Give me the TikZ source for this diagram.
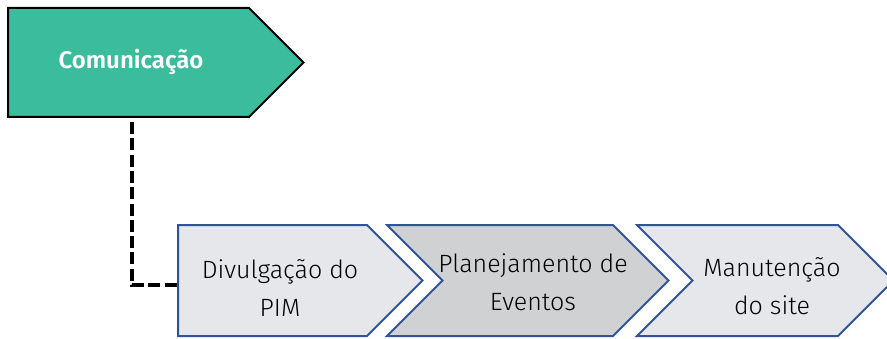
\documentclass[tikz,border=0pt]{standalone}
\usepackage{fontspec}
\setmainfont{Fira Sans}[UprightFont=* Light, BoldFont=* SemiBold]

\definecolor{verde}{HTML}{3BBD9D}
\definecolor{cinzaclaro}{HTML}{E6E7EB}
\definecolor{cinzaescuro}{HTML}{D0D1D3}
\definecolor{azul}{HTML}{2F5597}

\tikzset{
  fase/.style={draw=black, line width=2pt, fill=verde, line join=miter},
  etapa/.style={draw=azul, line width=2pt, fill=cinzaclaro, line join=miter},
  rotulofase/.style={text=white, inner sep=0pt, font=\fontsize{24}{28}\selectfont\bfseries},
  rotulo/.style={align=center, inner sep=0pt, font=\fontsize{25}{38}\selectfont},
  ligacao/.style={draw=black, line width=3.5pt, dash pattern=on 12pt off 4.3pt, shorten <=5pt},
}

\begin{document}
\begin{tikzpicture}[x=1pt,y=1pt]
        \useasboundingbox (0,0) rectangle (887,338);
        % Define shapes
        % fase
        \draw[fase] (8,330) -- (249,330) -- (303.5,275.5) -- (249,221) -- (8,221) coordinate (comunic-sw) -- cycle;
        % etapas
        \draw[etapa] (178,113) -- (367,113) -- (422.5,57.5) -- (367,2) -- (178,2) coordinate (divulg-sw) -- cycle;
        \draw[etapa, fill=cinzaescuro] (387,113) -- (613,113) -- (668.5,57.5) -- (613,2) -- (387,2) -- (442.5,57.5) -- cycle;
        \draw[etapa] (637,113) -- (838,113) -- (893.5,57.5) -- (838,2) -- (637,2) -- (692.5,57.5) -- cycle;
        % Define nodes
        \node[rotulofase](comunic) at (131,276){Comunicação}; %
        \node[rotulo](divulg) at (280,50){Divulgação do\\PIM}; %
        \node[rotulo](eventos) at (533,56){Planejamento de\\Eventos}; %
        \node[rotulo](site) at (772,52){Manutenção\\do site}; %
        % ligacao
        \coordinate (queda) at (132,53);
        \draw[ligacao] (comunic-sw -| queda) -- (queda) -- (queda -| divulg-sw);
    \end{tikzpicture}
\end{document}
